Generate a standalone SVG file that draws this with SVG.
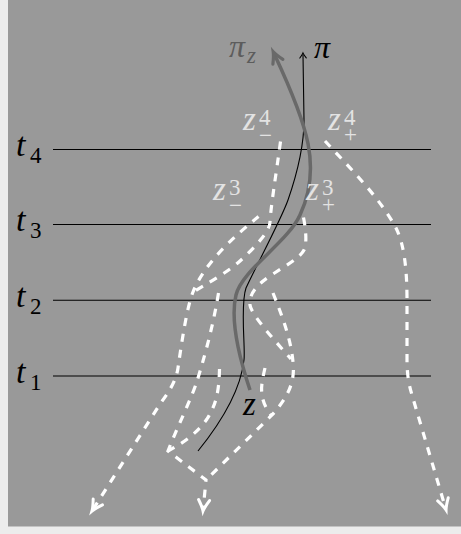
<svg xmlns="http://www.w3.org/2000/svg" width="461" height="534" viewBox="0 0 461 534">
<style>
.tl{stroke:#000;stroke-width:1.1;fill:none}
.dash{fill:none;stroke:#fff;stroke-width:3.2;stroke-dasharray:8 8}
.tx{font-family:Liberation Serif, DejaVu Serif, serif}
.it{font-style:italic}
</style>
<defs>
<marker id="wa" markerUnits="userSpaceOnUse" viewBox="-15 -15 30 30" markerWidth="30" markerHeight="30" refX="-2" refY="0" orient="auto" overflow="visible">
<path d="M-11,-5.5 Q-4,-1.2 0,0 Q-4,1.2 -11,5.5" fill="none" stroke="#fff" stroke-width="3" stroke-linecap="round" stroke-dasharray="none"/>
</marker>
<marker id="ga" markerUnits="userSpaceOnUse" viewBox="-15 -15 30 30" markerWidth="30" markerHeight="30" refX="-3" refY="0" orient="auto" overflow="visible">
<path d="M-11,-5.5 Q-4,-1.2 0,0 Q-4,1.2 -11,5.5" fill="none" stroke="#696969" stroke-width="3.2" stroke-linecap="round"/>
</marker>
<marker id="ba" markerUnits="userSpaceOnUse" viewBox="-10 -10 20 20" markerWidth="20" markerHeight="20" refX="-2" refY="0" orient="auto" overflow="visible">
<path d="M-5,-3.2 Q-1.5,-0.6 0,0 Q-1.5,0.6 -5,3.2" fill="none" stroke="#000" stroke-width="1.1" stroke-linecap="round"/>
</marker>
</defs>
<rect x="0" y="0" width="461" height="534" fill="#ececec"/>
<rect x="8" y="0" width="453" height="526.5" fill="#999999"/>
<g id="timelines">
<line class="tl" x1="53" y1="149.5" x2="431" y2="149.5"/>
<line class="tl" x1="53" y1="224.5" x2="431" y2="224.5"/>
<line class="tl" x1="53" y1="300.3" x2="431" y2="300.3"/>
<line class="tl" x1="53" y1="376" x2="431" y2="376"/>
</g>
<g id="connectors">
<path id="p-zm4" class="dash" d="M280.5,141.5 C276,175 271,205 270,222 C270,232 252,250 240,261 C228,272 205,285 193,292"/>
<path id="p-zm3" class="dash" d="M258.5,216.5 C235,236 205,262 193,292 C187,307 182,340 178,368 C176,382 168,393 160,404 L93,509.5" marker-end="url(#wa)"/>
<path id="p-zp4" class="dash" d="M325,141 C350,168 380,198 396,228 C404,244 407,268 407,300 L407,360 C407,375 409,385 412,395 L445.5,508" marker-end="url(#wa)"/>
<path id="p-zp3" class="dash" d="M303.5,217.5 C306,230 307,244 304,250 C300,258 285,266 270,276 C255,286 249,295 250,305 C251,315 278,344 291,359"/>
<path id="p-zp2" class="dash" d="M273,293 C283,318 291,340 293,362 C295,380 290,395 272,415 L206,480"/>
<path id="p-zm2" class="dash" d="M218.5,293 C214,320 208,345 198,378 C192,398 178,425 168,451 L206,480 L203.2,509" marker-end="url(#wa)"/>
<path id="p-zm1" class="dash" d="M219.5,369 C219,392 216,405 207,419 C198,432 185,442 168,451"/>
<path id="p-zp1" class="dash" d="M265,368 C261,385 258,398 271,415"/>
<path id="p-pi" d="M198,451 C215,430 240,395 244,360 C245.5,347 240,305 246,288 C254,270 281,220 288,200 C296,177 304,145 304,120 L303,55" fill="none" stroke="#000" stroke-width="1.1" marker-end="url(#ba)"/>
<path id="p-piz" d="M250,390 C240,360 230,320 236,295 C242,270 288,242 300,215 C322,168 308,126 274.5,54.5" fill="none" stroke="#696969" stroke-width="3.5" marker-end="url(#ga)"/>
</g>
<g id="t4" fill="#000"><text class="tx it" x="16" y="156" font-size="34">t</text><text class="tx" x="30" y="163" font-size="23">4</text></g>
<g id="t3" fill="#000"><text class="tx it" x="16" y="231" font-size="34">t</text><text class="tx" x="30" y="238" font-size="23">3</text></g>
<g id="t2" fill="#000"><text class="tx it" x="16" y="307" font-size="34">t</text><text class="tx" x="30" y="314" font-size="23">2</text></g>
<g id="t1" fill="#000"><text class="tx it" x="16" y="382.5" font-size="34">t</text><text class="tx" x="30" y="389.5" font-size="23">1</text></g>
<g id="pi" fill="#000"><text class="tx it" x="314" y="58" font-size="32">π</text></g>
<g id="piz" fill="#5c5c5c"><text class="tx it" x="229" y="57" font-size="32">π</text><text class="tx it" x="247" y="63" font-size="23">z</text></g>
<g id="z" fill="#000"><text class="tx it" x="243" y="415" font-size="33">z</text></g>
<g id="zm4" fill="#e3e3e3"><text class="tx it" x="243" y="130" font-size="33">z</text><text class="tx" x="259" y="125" font-size="23">4</text><text class="tx" x="259" y="143" font-size="23">−</text></g>
<g id="zp4" fill="#e3e3e3"><text class="tx it" x="328" y="130" font-size="33">z</text><text class="tx" x="344" y="125" font-size="23">4</text><text class="tx" x="344" y="142" font-size="23">+</text></g>
<g id="zm3" fill="#e3e3e3"><text class="tx it" x="213" y="200" font-size="33">z</text><text class="tx" x="229" y="195" font-size="23">3</text><text class="tx" x="229" y="213" font-size="23">−</text></g>
<g id="zp3" fill="#e3e3e3"><text class="tx it" x="306" y="200" font-size="33">z</text><text class="tx" x="322" y="195" font-size="23">3</text><text class="tx" x="322" y="212" font-size="23">+</text></g>
</svg>
